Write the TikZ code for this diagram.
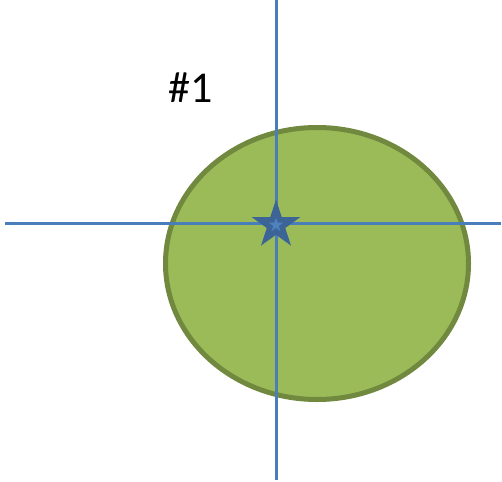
\documentclass[tikz,border=0pt]{standalone}
\usepackage{fontspec}
\setmainfont{Carlito}
\usetikzlibrary{shapes.geometric}
\definecolor{leafgreen}{HTML}{9BBB59}
\definecolor{leafedge}{HTML}{71893F}
\definecolor{axisblue}{HTML}{4A7EBB}
\definecolor{stardark}{HTML}{3C6497}
\definecolor{starlight}{HTML}{4F81BD}

\begin{document}
\begin{tikzpicture}[
  x=1pt, y=-1pt,
  blob/.style={draw=leafedge, fill=leafgreen, ellipse, line width=5pt, minimum width=303pt, minimum height=272pt, inner sep=0pt},
  axisline/.style={draw=axisblue, line width=3pt},
  marker/.style={star, star points=5, star point ratio=2.618, inner sep=0pt}
]
  \useasboundingbox (0,0) rectangle (502,481);
  \node[blob] (leaf) at (317,263.5) {};

  \coordinate (top) at (276,0);
  \coordinate (bottom) at (276,480);
  \coordinate (left) at (5,223);
  \coordinate (right) at (501,223);
  \draw[axisline] (top) -- (bottom);
  \draw[axisline] (left) -- (right);

  \node[marker, fill=stardark, minimum size=51pt] (spot) at (276,225) {};
  \node[marker, fill=starlight, minimum size=15pt] (spotcore) at (spot.center) {};

  \node[font=\fontsize{44}{52}\selectfont] (label) at (191,88) {\#1};
\end{tikzpicture}
\end{document}
